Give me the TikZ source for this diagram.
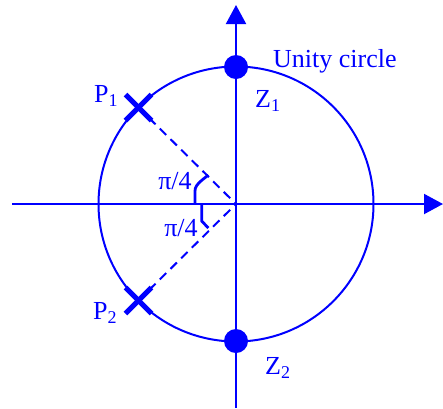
\documentclass[tikz,border=0pt]{standalone}
\usepackage{fontspec}
\setmainfont{Liberation Serif}
\usetikzlibrary{arrows.meta}
\newcommand{\sbs}[1]{\raisebox{-4pt}{\fontsize{18}{20}\selectfont #1}}
\begin{document}
\begin{tikzpicture}[x=1pt,y=-1pt,
  lbl/.style={text=blue, font=\fontsize{26}{30}\selectfont, inner sep=0pt},
  axis/.style={draw=blue, line width=2pt, -{Triangle[length=19pt,width=20pt]}},
  ring/.style={draw=blue, line width=2pt},
  dsh/.style={draw=blue, line width=2pt, dash pattern=on 9pt off 6pt},
  crs/.style={draw=blue, line width=5pt},
  angmark/.style={draw=blue, line width=2.8pt, line join=round},
  zero/.style={circle, fill=blue, minimum size=24pt, inner sep=0pt}]
\useasboundingbox (0,0) rectangle (443,408);
\coordinate (O) at (236,204);
\coordinate (xs) at (12,204);
\coordinate (xe) at (443,204);
\coordinate (ys) at (236,408);
\coordinate (ye) at (236,5);
\draw[axis] (xs) -- (xe);
\draw[axis] (ys) -- (ye);
\draw[ring] (O) circle (137.5pt);
\node[zero] (Z1) at (236,67) {};
\node[zero] (Z2) at (236,341) {};
\coordinate (P1) at (138.5,107.5);
\coordinate (P2) at (138.5,300.5);
\draw[dsh] (P1) -- (O);
\draw[dsh] (P2) -- (O);
\foreach \p in {P1,P2}{
  \draw[crs] ([shift={(-13,-13)}]\p) -- ([shift={(13,13)}]\p);
  \draw[crs] ([shift={(-13,13)}]\p) -- ([shift={(13,-13)}]\p);
}
\draw[angmark] (208.3,175) -- (201.5,180.5) .. controls (197,184.5) and (195,187) .. (195,191) -- (195,204);
\draw[angmark] (201.7,204) -- (201.7,221) -- (208.3,228);
\node[lbl] (a1) at (175,181) {π/4};
\node[lbl] (a2) at (181,228) {π/4};
\node[lbl, anchor=base west] (lp1) at (94,102) {P\sbs{1}};
\node[lbl, anchor=base west] (lp2) at (93,319) {P\sbs{2}};
\node[lbl, anchor=base west] (lz1) at (255,107) {Z\sbs{1}};
\node[lbl, anchor=base west] (lz2) at (265,374) {Z\sbs{2}};
\node[lbl, anchor=base west] (uc) at (273,67) {Unity circle};
\end{tikzpicture}
\end{document}
